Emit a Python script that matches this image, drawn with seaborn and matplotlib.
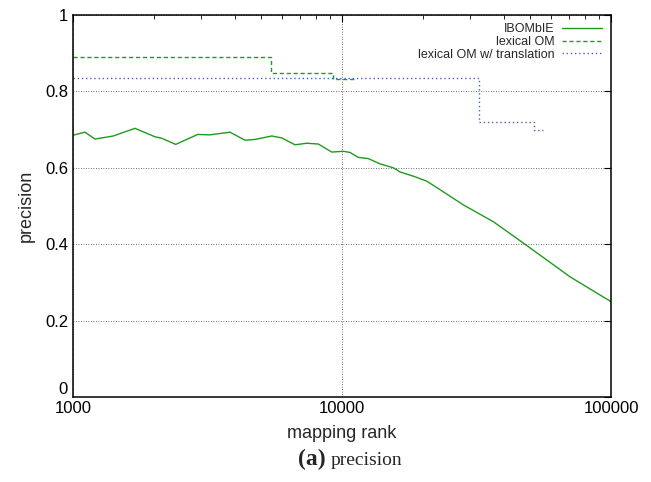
import numpy as np
import pandas as pd
import matplotlib
matplotlib.use('Agg')
import matplotlib.pyplot as plt
import seaborn as sns
from matplotlib.ticker import FixedLocator, FixedFormatter, LogLocator, NullFormatter

# IBOMbIE precision vs mapping rank
ibombie_rank = [1000, 1108, 1207, 1412, 1700, 2017, 2137, 2409, 2908, 3230, 3834,
                4359, 4750, 5480, 5968, 6688, 7393, 8165, 9157, 10111, 10708,
                11497, 12525, 13846, 15508, 16428, 18413, 20647, 23002, 23805,
                28240, 36510, 47890, 70400, 100000]
ibombie_prec = [0.685, 0.693, 0.675, 0.683, 0.703, 0.681, 0.677, 0.661, 0.687, 0.686, 0.693,
                0.672, 0.674, 0.683, 0.678, 0.660, 0.664, 0.662, 0.641, 0.643, 0.640,
                0.627, 0.624, 0.610, 0.600, 0.589, 0.578, 0.565, 0.544, 0.537,
                0.503, 0.459, 0.400, 0.315, 0.250]

# lexical OM (step function)
lex_rank = [1000, 5440, 9230, 11170]
lex_prec = [0.889, 0.848, 0.832, 0.832]

# lexical OM with translation (step function)
lextr_rank = [1000, 32200, 51600, 56000]
lextr_prec = [0.835, 0.720, 0.699, 0.699]

sns.set_style('white')
plt.rcParams['font.family'] = ['Liberation Sans', 'DejaVu Sans']

fig = plt.figure(figsize=(6.51, 4.82), dpi=100)
ax = fig.add_axes([0.1121, 0.1757, 0.8265, 0.7938])

green = '#1f9a1f'
blue = '#4a5ccc'

sns.lineplot(x=ibombie_rank, y=ibombie_prec, ax=ax, color=green, lw=1.0,
             label='IBOMbIE')
sns.lineplot(x=lex_rank, y=lex_prec, ax=ax, color=green, lw=1.0,
             drawstyle='steps-post', linestyle=(0, (3, 2)),
             label='lexical OM')
sns.lineplot(x=lextr_rank, y=lextr_prec, ax=ax, color=blue, lw=1.0,
             drawstyle='steps-post', linestyle=(0, (1, 2)),
             label='lexical OM w/ translation')

ax.set_xscale('log')
ax.set_xlim(1000, 100000)
ax.set_ylim(0, 1)

ax.xaxis.set_major_locator(FixedLocator([1000, 10000, 100000]))
ax.xaxis.set_major_formatter(FixedFormatter(['1000', '10000', '100000']))
ax.xaxis.set_minor_locator(LogLocator(base=10, subs=np.arange(2, 10)))
ax.xaxis.set_minor_formatter(NullFormatter())
ax.yaxis.set_major_locator(FixedLocator([0, 0.2, 0.4, 0.6, 0.8, 1.0]))
ax.yaxis.set_major_formatter(FixedFormatter(['0', '0.2', '0.4', '0.6', '0.8', '1']))

ax.tick_params(axis='both', which='both', direction='in', top=True, right=True,
               labelsize=12, colors='black')
ax.tick_params(which='major', length=5, width=0.8)
ax.tick_params(which='minor', length=3, width=0.6)
ax.tick_params(axis='x', which='major', pad=3)
# keep the "0" label above the "1000" label
ax.get_yticklabels()[0].set_va('bottom')

ax.grid(True, which='major', color='#444444', linestyle=(0, (1, 2)), lw=0.6)
for s in ax.spines.values():
    s.set_color('black')
    s.set_linewidth(1.1)

ax.set_xlabel('mapping rank', fontsize=13, labelpad=6)
ax.set_ylabel('precision', fontsize=13, labelpad=7)

leg = ax.legend(loc='upper right', frameon=False, fontsize=9, markerfirst=False,
                handlelength=3.2, labelspacing=0.05, borderaxespad=0.3,
                handletextpad=0.6)

fig.text(0.5, 0.035, '(a)', fontsize=17, fontweight='bold', family='Liberation Serif',
         ha='right', va='baseline')
fig.text(0.508, 0.035, 'precision', fontsize=14, family='Liberation Serif',
         ha='left', va='baseline')

fig.savefig('out.png', dpi=100)
